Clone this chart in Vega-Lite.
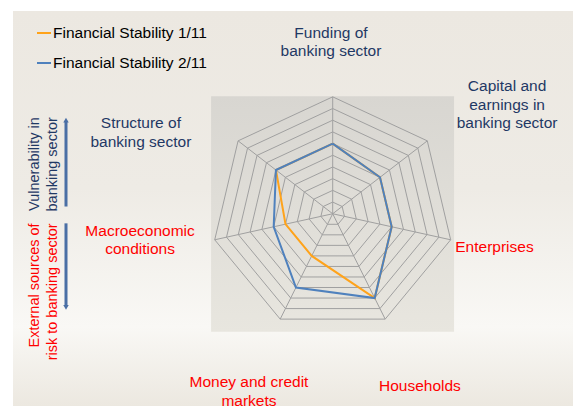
{
  "$schema": "https://vega.github.io/schema/vega-lite/v6.json",
  "width": 573,
  "height": 409,
  "autosize": {"type": "fit", "contains": "padding"},
  "padding": {"left": 13, "top": 11, "right": 0, "bottom": 0},
  "background": "#FFFFFF",
  "config": {
    "view": {"stroke": null, "fill": "#ECE8E1"},
    "font": "Liberation Sans",
    "text": {"font": "Liberation Sans"}
  },
  "datasets": {
    "axes": [
      {"k": 0, "axis": "Funding of banking sector", "label": "Funding of\nbanking sector"},
      {"k": 1, "axis": "Capital and earnings in banking sector", "label": "Capital and\nearnings in\nbanking sector"},
      {"k": 2, "axis": "Enterprises", "label": "Enterprises"},
      {"k": 3, "axis": "Households", "label": "Households"},
      {"k": 4, "axis": "Money and credit markets", "label": "Money and credit\nmarkets"},
      {"k": 5, "axis": "Macroeconomic conditions", "label": "Macroeconomic\nconditions"},
      {"k": 6, "axis": "Structure of banking sector", "label": "Structure of\nbanking sector"}
    ],
    "rings": [
      {"ring": 1, "vertex": [0, 1, 2, 3, 4, 5, 6, 7]},
      {"ring": 2, "vertex": [0, 1, 2, 3, 4, 5, 6, 7]},
      {"ring": 3, "vertex": [0, 1, 2, 3, 4, 5, 6, 7]},
      {"ring": 4, "vertex": [0, 1, 2, 3, 4, 5, 6, 7]},
      {"ring": 5, "vertex": [0, 1, 2, 3, 4, 5, 6, 7]},
      {"ring": 6, "vertex": [0, 1, 2, 3, 4, 5, 6, 7]},
      {"ring": 7, "vertex": [0, 1, 2, 3, 4, 5, 6, 7]},
      {"ring": 8, "vertex": [0, 1, 2, 3, 4, 5, 6, 7]},
      {"ring": 9, "vertex": [0, 1, 2, 3, 4, 5, 6, 7]},
      {"ring": 10, "vertex": [0, 1, 2, 3, 4, 5, 6, 7]}
    ],
    "scores": [
      {"series": "Financial Stability 1/11", "axis": "Funding of banking sector", "k": 0, "value": 6},
      {"series": "Financial Stability 1/11", "axis": "Capital and earnings in banking sector", "k": 1, "value": 5},
      {"series": "Financial Stability 1/11", "axis": "Enterprises", "k": 2, "value": 5},
      {"series": "Financial Stability 1/11", "axis": "Households", "k": 3, "value": 8},
      {"series": "Financial Stability 1/11", "axis": "Money and credit markets", "k": 4, "value": 4},
      {"series": "Financial Stability 1/11", "axis": "Macroeconomic conditions", "k": 5, "value": 4},
      {"series": "Financial Stability 1/11", "axis": "Structure of banking sector", "k": 6, "value": 6},
      {"series": "Financial Stability 1/11", "axis": "Funding of banking sector", "k": 7, "value": 6},
      {"series": "Financial Stability 2/11", "axis": "Funding of banking sector", "k": 0, "value": 6},
      {"series": "Financial Stability 2/11", "axis": "Capital and earnings in banking sector", "k": 1, "value": 5},
      {"series": "Financial Stability 2/11", "axis": "Enterprises", "k": 2, "value": 5},
      {"series": "Financial Stability 2/11", "axis": "Households", "k": 3, "value": 8},
      {"series": "Financial Stability 2/11", "axis": "Money and credit markets", "k": 4, "value": 7},
      {"series": "Financial Stability 2/11", "axis": "Macroeconomic conditions", "k": 5, "value": 5},
      {"series": "Financial Stability 2/11", "axis": "Structure of banking sector", "k": 6, "value": 6},
      {"series": "Financial Stability 2/11", "axis": "Funding of banking sector", "k": 7, "value": 6}
    ]
  },
  "layer": [
    {
      "data": {"values": [{}]},
      "mark": {
        "type": "rect",
        "color": {"gradient": "linear", "x1": 0, "y1": 0, "x2": 0, "y2": 1,
          "stops": [
            {"offset": 0, "color": "#ECE8E1"},
            {"offset": 0.45, "color": "#EEEBE5"},
            {"offset": 0.8, "color": "#F9F8F5"},
            {"offset": 1, "color": "#ECE8E0"}
          ]}
      },
      "encoding": {
        "x": {"datum": -26.42, "type": "quantitative", "scale": {"domain": [-26.42, 19.86], "nice": false, "zero": false}, "axis": null},
        "x2": {"datum": 19.86},
        "y": {"datum": -16.44, "type": "quantitative", "scale": {"domain": [-16.44, 17.34], "nice": false, "zero": false}, "axis": null},
        "y2": {"datum": 17.34}
      }
    },
    {
      "data": {"values": [{}]},
      "mark": {
        "type": "rect",
        "color": {"gradient": "linear", "x1": 0, "y1": 0, "x2": 0, "y2": 1,
          "stops": [
            {"offset": 0, "color": "#D8D6D1"},
            {"offset": 1, "color": "#E8E6DF"}
          ]}
      },
      "encoding": {
        "x": {"datum": -10.05, "type": "quantitative", "scale": {"domain": [-26.42, 19.86], "nice": false, "zero": false}, "axis": null},
        "x2": {"datum": 10.03},
        "y": {"datum": -10.08, "type": "quantitative", "scale": {"domain": [-16.44, 17.34], "nice": false, "zero": false}, "axis": null},
        "y2": {"datum": 10.04}
      }
    },
    {
      "data": {"name": "rings"},
      "transform": [
        {"flatten": ["vertex"]},
        {"calculate": "datum.ring * sin(datum.vertex * 2 * PI / 7)", "as": "gx"},
        {"calculate": "datum.ring * cos(datum.vertex * 2 * PI / 7)", "as": "gy"}
      ],
      "mark": {"type": "line", "stroke": "#A0A0A0", "strokeWidth": 1},
      "encoding": {
        "x": {"field": "gx", "type": "quantitative", "scale": {"domain": [-26.42, 19.86], "nice": false, "zero": false}, "axis": null},
        "y": {"field": "gy", "type": "quantitative", "scale": {"domain": [-16.44, 17.34], "nice": false, "zero": false}, "axis": null},
        "detail": {"field": "ring", "type": "nominal"},
        "order": {"field": "vertex", "type": "quantitative"}
      }
    },
    {
      "data": {"name": "axes"},
      "transform": [
        {"calculate": "10 * sin(datum.k * 2 * PI / 7)", "as": "sx"},
        {"calculate": "10 * cos(datum.k * 2 * PI / 7)", "as": "sy"},
        {"calculate": "0", "as": "o"}
      ],
      "mark": {"type": "rule", "stroke": "#A0A0A0", "strokeWidth": 1},
      "encoding": {
        "x": {"field": "o", "type": "quantitative", "scale": {"domain": [-26.42, 19.86], "nice": false, "zero": false}, "axis": null},
        "y": {"field": "o", "type": "quantitative", "scale": {"domain": [-16.44, 17.34], "nice": false, "zero": false}, "axis": null},
        "x2": {"field": "sx"},
        "y2": {"field": "sy"}
      }
    },
    {
      "data": {"name": "scores"},
      "transform": [
        {"filter": "datum.series == 'Financial Stability 1/11'"},
        {"calculate": "datum.value * sin(datum.k * 2 * PI / 7)", "as": "px"},
        {"calculate": "datum.value * cos(datum.k * 2 * PI / 7)", "as": "py"}
      ],
      "mark": {"type": "line", "strokeWidth": 2},
      "encoding": {
        "x": {"field": "px", "type": "quantitative", "scale": {"domain": [-26.42, 19.86], "nice": false, "zero": false}, "axis": null},
        "y": {"field": "py", "type": "quantitative", "scale": {"domain": [-16.44, 17.34], "nice": false, "zero": false}, "axis": null},
        "order": {"field": "k", "type": "quantitative"},
        "color": {
          "field": "series", "type": "nominal",
          "scale": {"domain": ["Financial Stability 1/11", "Financial Stability 2/11"], "range": ["#FFA31A", "#4F81BD"]},
          "legend": {"title": null, "orient": "none", "legendX": 23, "legendY": 14, "symbolType": "stroke", "symbolSize": 196, "symbolStrokeWidth": 2, "labelFont": "Liberation Sans", "labelFontSize": 15.5, "labelColor": "#000000", "labelOffset": 1, "rowPadding": 13, "padding": 0}
        }
      }
    },
    {
      "data": {"name": "scores"},
      "transform": [
        {"filter": "datum.series == 'Financial Stability 2/11'"},
        {"calculate": "datum.value * sin(datum.k * 2 * PI / 7)", "as": "px"},
        {"calculate": "datum.value * cos(datum.k * 2 * PI / 7)", "as": "py"}
      ],
      "mark": {"type": "line", "strokeWidth": 2},
      "encoding": {
        "x": {"field": "px", "type": "quantitative", "scale": {"domain": [-26.42, 19.86], "nice": false, "zero": false}, "axis": null},
        "y": {"field": "py", "type": "quantitative", "scale": {"domain": [-16.44, 17.34], "nice": false, "zero": false}, "axis": null},
        "order": {"field": "k", "type": "quantitative"},
        "color": {
          "field": "series", "type": "nominal",
          "scale": {"domain": ["Financial Stability 1/11", "Financial Stability 2/11"], "range": ["#FFA31A", "#4F81BD"]},
          "legend": {"title": null, "orient": "none", "legendX": 23, "legendY": 14, "symbolType": "stroke", "symbolSize": 196, "symbolStrokeWidth": 2, "labelFont": "Liberation Sans", "labelFontSize": 15.5, "labelColor": "#000000", "labelOffset": 1, "rowPadding": 13, "padding": 0}
        }
      }
    },
    {
      "data": {"name": "axes"},
      "transform": [{"filter": "datum.k == 0"}],
      "mark": {"type": "text", "fontSize": 15.5, "lineHeight": 18.5, "lineBreak": "\n", "align": "center", "baseline": "middle", "color": "#1F3864"},
      "encoding": {
        "x": {"datum": -0.14, "type": "quantitative", "scale": {"domain": [-26.42, 19.86], "nice": false, "zero": false}, "axis": null},
        "y": {"datum": 15.47, "type": "quantitative", "scale": {"domain": [-16.44, 17.34], "nice": false, "zero": false}, "axis": null},
        "text": {"field": "label", "type": "nominal"}
      }
    },
    {
      "data": {"name": "axes"},
      "transform": [{"filter": "datum.k == 1"}],
      "mark": {"type": "text", "fontSize": 15.5, "lineHeight": 18.5, "lineBreak": "\n", "align": "center", "baseline": "middle", "color": "#1F3864"},
      "encoding": {
        "x": {"datum": 14.41, "type": "quantitative", "scale": {"domain": [-26.42, 19.86], "nice": false, "zero": false}, "axis": null},
        "y": {"datum": 10.89, "type": "quantitative", "scale": {"domain": [-16.44, 17.34], "nice": false, "zero": false}, "axis": null},
        "text": {"field": "label", "type": "nominal"}
      }
    },
    {
      "data": {"name": "axes"},
      "transform": [{"filter": "datum.k == 2"}],
      "mark": {"type": "text", "fontSize": 15.5, "lineHeight": 18.5, "lineBreak": "\n", "align": "center", "baseline": "middle", "color": "#FF0000"},
      "encoding": {
        "x": {"datum": 13.37, "type": "quantitative", "scale": {"domain": [-26.42, 19.86], "nice": false, "zero": false}, "axis": null},
        "y": {"datum": -2.86, "type": "quantitative", "scale": {"domain": [-16.44, 17.34], "nice": false, "zero": false}, "axis": null},
        "text": {"field": "label", "type": "nominal"}
      }
    },
    {
      "data": {"name": "axes"},
      "transform": [{"filter": "datum.k == 3"}],
      "mark": {"type": "text", "fontSize": 15.5, "lineHeight": 18.5, "lineBreak": "\n", "align": "center", "baseline": "middle", "color": "#FF0000"},
      "encoding": {
        "x": {"datum": 7.21, "type": "quantitative", "scale": {"domain": [-26.42, 19.86], "nice": false, "zero": false}, "axis": null},
        "y": {"datum": -14.75, "type": "quantitative", "scale": {"domain": [-16.44, 17.34], "nice": false, "zero": false}, "axis": null},
        "text": {"field": "label", "type": "nominal"}
      }
    },
    {
      "data": {"name": "axes"},
      "transform": [{"filter": "datum.k == 4"}],
      "mark": {"type": "text", "fontSize": 15.5, "lineHeight": 18.5, "lineBreak": "\n", "align": "center", "baseline": "middle", "color": "#FF0000"},
      "encoding": {
        "x": {"datum": -6.92, "type": "quantitative", "scale": {"domain": [-26.42, 19.86], "nice": false, "zero": false}, "axis": null},
        "y": {"datum": -14.41, "type": "quantitative", "scale": {"domain": [-16.44, 17.34], "nice": false, "zero": false}, "axis": null},
        "text": {"field": "label", "type": "nominal"}
      }
    },
    {
      "data": {"name": "axes"},
      "transform": [{"filter": "datum.k == 5"}],
      "mark": {"type": "text", "fontSize": 15.5, "lineHeight": 18.5, "lineBreak": "\n", "align": "center", "baseline": "middle", "color": "#FF0000"},
      "encoding": {
        "x": {"datum": -15.92, "type": "quantitative", "scale": {"domain": [-26.42, 19.86], "nice": false, "zero": false}, "axis": null},
        "y": {"datum": -1.46, "type": "quantitative", "scale": {"domain": [-16.44, 17.34], "nice": false, "zero": false}, "axis": null},
        "text": {"field": "label", "type": "nominal"}
      }
    },
    {
      "data": {"name": "axes"},
      "transform": [{"filter": "datum.k == 6"}],
      "mark": {"type": "text", "fontSize": 15.5, "lineHeight": 18.5, "lineBreak": "\n", "align": "center", "baseline": "middle", "color": "#1F3864"},
      "encoding": {
        "x": {"datum": -15.85, "type": "quantitative", "scale": {"domain": [-26.42, 19.86], "nice": false, "zero": false}, "axis": null},
        "y": {"datum": 7.75, "type": "quantitative", "scale": {"domain": [-16.44, 17.34], "nice": false, "zero": false}, "axis": null},
        "text": {"field": "label", "type": "nominal"}
      }
    },
    {
      "data": {"values": [{"note": "Vulnerability in\nbanking sector"}]},
      "mark": {"type": "text", "fontSize": 14.5, "lineHeight": 17.5, "lineBreak": "\n", "angle": 270, "align": "right", "baseline": "middle", "color": "#1F3864"},
      "encoding": {
        "x": {"datum": -24.6, "type": "quantitative", "scale": {"domain": [-26.42, 19.86], "nice": false, "zero": false}, "axis": null},
        "y": {"datum": 8.26, "type": "quantitative", "scale": {"domain": [-16.44, 17.34], "nice": false, "zero": false}, "axis": null},
        "text": {"field": "note", "type": "nominal"}
      }
    },
    {
      "data": {"values": [{"note": "External sources of\nrisk to banking sector"}]},
      "mark": {"type": "text", "fontSize": 14.5, "lineHeight": 17.5, "lineBreak": "\n", "angle": 270, "align": "right", "baseline": "middle", "color": "#FF0000"},
      "encoding": {
        "x": {"datum": -24.6, "type": "quantitative", "scale": {"domain": [-26.42, 19.86], "nice": false, "zero": false}, "axis": null},
        "y": {"datum": -0.82, "type": "quantitative", "scale": {"domain": [-16.44, 17.34], "nice": false, "zero": false}, "axis": null},
        "text": {"field": "note", "type": "nominal"}
      }
    },
    {
      "data": {"values": [{}]},
      "mark": {"type": "rule", "stroke": "#4A6FA5", "strokeWidth": 3},
      "encoding": {
        "x": {"datum": -22.04, "type": "quantitative", "scale": {"domain": [-26.42, 19.86], "nice": false, "zero": false}, "axis": null},
        "y": {"datum": 0.62, "type": "quantitative", "scale": {"domain": [-16.44, 17.34], "nice": false, "zero": false}, "axis": null},
        "y2": {"datum": 7.9}
      }
    },
    {
      "data": {"values": [{}]},
      "mark": {"type": "rule", "stroke": "#4A6FA5", "strokeWidth": 3},
      "encoding": {
        "x": {"datum": -22.04, "type": "quantitative", "scale": {"domain": [-26.42, 19.86], "nice": false, "zero": false}, "axis": null},
        "y": {"datum": -0.82, "type": "quantitative", "scale": {"domain": [-16.44, 17.34], "nice": false, "zero": false}, "axis": null},
        "y2": {"datum": -7.9}
      }
    },
    {
      "data": {"values": [{}]},
      "mark": {"type": "point", "shape": "triangle-up", "filled": true, "size": 30, "color": "#4A6FA5", "opacity": 1},
      "encoding": {
        "x": {"datum": -22.04, "type": "quantitative", "scale": {"domain": [-26.42, 19.86], "nice": false, "zero": false}, "axis": null},
        "y": {"datum": 8.0, "type": "quantitative", "scale": {"domain": [-16.44, 17.34], "nice": false, "zero": false}, "axis": null}
      }
    },
    {
      "data": {"values": [{}]},
      "mark": {"type": "point", "shape": "triangle-down", "filled": true, "size": 30, "color": "#4A6FA5", "opacity": 1},
      "encoding": {
        "x": {"datum": -22.04, "type": "quantitative", "scale": {"domain": [-26.42, 19.86], "nice": false, "zero": false}, "axis": null},
        "y": {"datum": -8.0, "type": "quantitative", "scale": {"domain": [-16.44, 17.34], "nice": false, "zero": false}, "axis": null}
      }
    }
  ]
}
